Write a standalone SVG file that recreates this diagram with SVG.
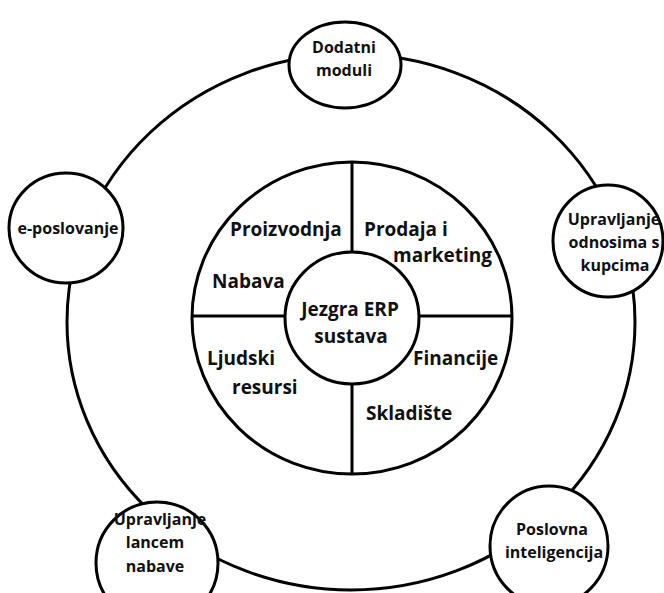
<svg xmlns="http://www.w3.org/2000/svg" width="664" height="593" viewBox="0 0 664 593">
<style>
.ln{fill:none;stroke:#000;stroke-width:3}
.nd{fill:#fff;stroke:#000;stroke-width:3}
.t{font-family:"Open Sans","Liberation Sans",sans-serif;font-weight:700;font-size:16px;fill:#111;text-anchor:middle}
.ti{font-family:"Open Sans","Liberation Sans",sans-serif;font-weight:700;font-size:19px;fill:#111}
</style>
<rect width="664" height="593" fill="#fff"/>
<g id="connectors">
<ellipse class="ln" cx="351" cy="322" rx="284" ry="268"/>
</g>
<g id="erp-ring">
<ellipse class="nd" cx="352" cy="318" rx="160" ry="156"/>
<line class="ln" x1="352" y1="162" x2="352" y2="252"/>
<line class="ln" x1="352" y1="384" x2="352" y2="474"/>
<line class="ln" x1="192" y1="316" x2="286" y2="316"/>
<line class="ln" x1="418" y1="316" x2="512" y2="316"/>
<text class="ti" x="230" y="236">Proizvodnja</text>
<text class="ti" x="364" y="236">Prodaja i</text>
<text class="ti" x="393" y="262">marketing</text>
<text class="ti" x="212" y="288">Nabava</text>
<text class="ti" x="413" y="365">Financije</text>
<text class="ti" x="207" y="365">Ljudski</text>
<text class="ti" x="232" y="394">resursi</text>
<text class="ti" x="366" y="420">Skladište</text>
</g>
<g id="core">
<ellipse class="nd" cx="352" cy="318" rx="67" ry="66"/>
<text class="ti" x="350" y="316" text-anchor="middle">Jezgra ERP</text>
<text class="ti" x="351" y="343" text-anchor="middle">sustava</text>
</g>
<g id="dodatni">
<ellipse class="nd" cx="345" cy="65" rx="56" ry="43"/>
<text class="t" x="344" y="53">Dodatni</text>
<text class="t" x="344" y="76">moduli</text>
</g>
<g id="eposlovanje">
<ellipse class="nd" cx="66" cy="228" rx="57" ry="55"/>
<text class="t" x="68" y="234">e-poslovanje</text>
</g>
<g id="crm">
<ellipse class="nd" cx="608" cy="241" rx="55" ry="56"/>
<text class="t" x="614" y="225">Upravljanje</text>
<text class="t" x="614" y="248">odnosima s</text>
<text class="t" x="615" y="271">kupcima</text>
</g>
<g id="scm">
<ellipse class="nd" cx="157" cy="563" rx="61" ry="61"/>
<text class="t" x="160" y="525">Upravljanje</text>
<text class="t" x="155" y="548">lancem</text>
<text class="t" x="155" y="572">nabave</text>
</g>
<g id="bi">
<ellipse class="nd" cx="549" cy="546" rx="59" ry="60"/>
<text class="t" x="552" y="535">Poslovna</text>
<text class="t" x="554" y="558">inteligencija</text>
</g>
</svg>
